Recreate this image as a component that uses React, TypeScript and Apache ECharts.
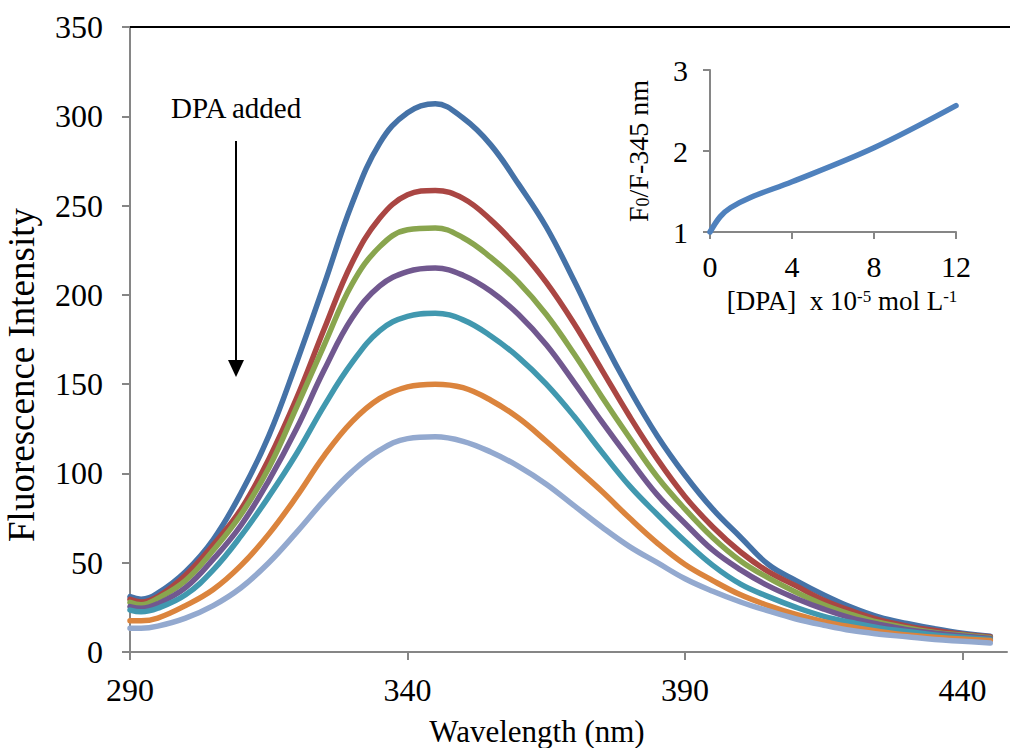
import React, { useEffect, useRef } from "react";
import * as echarts from "echarts";

// ---- Main spectra data ----
const wavelengths = [290, 292, 295, 300, 305, 310, 315, 320, 325, 330, 335, 340, 345, 350, 355, 360, 365, 370, 375, 380, 385, 390, 395, 400, 405, 410, 415, 420, 425, 430, 435, 440, 445];
const s1 = [31, 29.5, 33, 45, 63, 89, 121, 162, 206, 251, 285, 302, 307, 299, 284, 262, 238, 208, 176, 147, 121, 99, 80, 64.3, 49, 40, 32, 25, 19.5, 16, 13, 10.5, 8.8];
const s2 = [29.5, 28, 31, 43, 60, 80, 108, 142, 181, 218, 243, 256, 258.5, 254, 242, 226, 207, 184, 158, 132, 108, 87, 70, 56, 45, 37, 29, 23, 18, 14.5, 12, 10, 8.5];
const s3 = [27.8, 26.5, 30, 40, 57, 77, 103, 137, 172, 206, 227, 236.5, 237.5, 232, 221, 207, 189, 167, 143, 120, 98, 80, 64, 51, 41.5, 33.5, 26.5, 21, 16.5, 13.5, 11, 9.5, 8];
const s4 = [25.4, 24.5, 27, 36, 52, 71, 96, 125, 158, 187, 205, 213, 215, 211, 202, 189, 172, 151, 129, 108, 88, 72, 57, 46, 37, 30, 24, 19, 15.5, 12.5, 10.5, 9, 7.5];
const s5 = [23.5, 22.5, 24.5, 32, 46, 65, 87, 111, 138, 162, 180, 188, 189.7, 186, 177, 165, 150, 132, 112, 93, 77, 62, 48.5, 38, 31, 25, 20, 16.5, 13.5, 11.5, 9.5, 8.3, 7];
const s6 = [17.5, 17.5, 19, 26, 35, 48.5, 66, 87, 110, 129, 142, 148.5, 150, 148, 141, 131, 118, 104, 90, 75, 61, 49, 40, 32, 26, 21, 17, 14, 11.5, 9.5, 8.3, 7.3, 6.5];
const s7 = [13.3, 13.3, 14.5, 19, 26, 36, 50, 67, 85, 101, 113, 119.5, 120.5, 118, 112, 104, 94, 82, 70, 59, 50, 41, 34, 28, 23, 18.5, 15, 12, 10, 8.5, 7, 6, 5];
const spectra = [s1, s2, s3, s4, s5, s6, s7];
const spectraColors = ["#4572A7", "#AA4643", "#89A54E", "#71588F", "#4198AF", "#DB843D", "#93A9CF"];
const xTickValues = [290, 340, 390, 440];

// ---- Inset data ----
const dpaConc = [0, 0.5, 1, 2, 4, 8, 12];
const f0OverF = [1, 1.19, 1.3, 1.43, 1.62, 2.04, 2.56];

const FONT = "'Liberation Serif', 'Times New Roman', serif";
const AXIS_GRAY = "#868686";

export default function App() {
  const ref = useRef<HTMLDivElement>(null);

  useEffect(() => {
    if (!ref.current) return;
    const chart = echarts.init(ref.current, null, { renderer: "svg" });

    const mainSeries = spectra.map((vals, i) => ({
      type: "line",
      xAxisIndex: 0,
      yAxisIndex: 0,
      data: wavelengths.map((w, j) => [w, vals[j]]),
      showSymbol: false,
      symbol: "none",
      smooth: 0.4,
      lineStyle: { color: spectraColors[i], width: 5.5, cap: "round", join: "round" },
      itemStyle: { color: spectraColors[i] },
      z: 2 + i,
    }));

    const axisLineStyle = { show: true, lineStyle: { color: AXIS_GRAY, width: 2 } };

    chart.setOption({
      animation: false,
      backgroundColor: "#ffffff",
      grid: [
        { left: 130, right: 3, top: 27, bottom: 96, containLabel: false },
        { left: 710, top: 70, width: 246, height: 162, containLabel: false },
      ],
      xAxis: [
        {
          gridIndex: 0,
          type: "value",
          min: 290,
          max: 448,
          axisLine: { ...axisLineStyle, onZero: false },
          axisTick: { show: true, length: 8, lineStyle: { color: AXIS_GRAY, width: 2 }, customValues: xTickValues },
          axisLabel: { customValues: xTickValues, fontFamily: FONT, fontSize: 32, color: "#000", margin: 22 },
          splitLine: { show: false },
        },
        {
          gridIndex: 1,
          type: "value",
          min: 0,
          max: 12,
          interval: 4,
          axisLine: { ...axisLineStyle, onZero: false },
          axisTick: { show: true, length: 7, lineStyle: { color: AXIS_GRAY, width: 2 } },
          axisLabel: { fontFamily: FONT, fontSize: 30, color: "#000", margin: 19 },
          splitLine: { show: false },
        },
      ],
      yAxis: [
        {
          gridIndex: 0,
          type: "value",
          min: 0,
          max: 350,
          interval: 50,
          axisLine: { ...axisLineStyle, onZero: false },
          axisTick: { show: true, length: 8, lineStyle: { color: AXIS_GRAY, width: 2 } },
          axisLabel: { fontFamily: FONT, fontSize: 32, color: "#000", margin: 27 },
          splitLine: { show: false },
        },
        {
          gridIndex: 1,
          type: "value",
          min: 1,
          max: 3,
          interval: 1,
          axisLine: { ...axisLineStyle, onZero: false },
          axisTick: { show: true, length: 7, lineStyle: { color: AXIS_GRAY, width: 2 } },
          axisLabel: { fontFamily: FONT, fontSize: 30, color: "#000", margin: 22 },
          splitLine: { show: false },
        },
      ],
      series: [
        ...mainSeries,
        {
          type: "line",
          xAxisIndex: 1,
          yAxisIndex: 1,
          data: dpaConc.map((c, j) => [c, f0OverF[j]]),
          symbol: "none",
          smooth: 0.35,
          lineStyle: { color: "#4F81BD", width: 5.5, cap: "round" },
          z: 20,
        },
      ],
      graphic: [
        {
          type: "line",
          shape: { x1: 130, y1: 27, x2: 1010, y2: 27 },
          style: { stroke: "#000", lineWidth: 2 },
          z: 10,
        },
        {
          type: "text",
          x: 171,
          y: 108,
          style: { text: "DPA added", font: `29px ${FONT}`, fill: "#000", align: "left", verticalAlign: "middle" },
        },
        {
          type: "line",
          shape: { x1: 236, y1: 141, x2: 236, y2: 362 },
          style: { stroke: "#000", lineWidth: 2 },
        },
        {
          type: "polygon",
          shape: { points: [[228, 360], [244, 360], [236, 377]] },
          style: { fill: "#000" },
        },
        {
          type: "text",
          x: 21,
          y: 375,
          rotation: Math.PI / 2,
          style: { text: "Fluorescence Intensity", font: `37px ${FONT}`, fill: "#000", align: "center", verticalAlign: "middle" },
        },
        {
          type: "text",
          x: 537,
          y: 731,
          style: { text: "Wavelength (nm)", font: `31px ${FONT}`, fill: "#000", align: "center", verticalAlign: "middle" },
        },
        {
          type: "text",
          x: 638,
          y: 151,
          rotation: Math.PI / 2,
          style: {
            text: "F{sub|0}/F-345 nm",
            font: `28px ${FONT}`,
            fill: "#000",
            align: "center",
            verticalAlign: "middle",
            lineHeight: 28,
            rich: {
              sub: { fontSize: 18, fontFamily: FONT, fill: "#000", lineHeight: 8, verticalAlign: "bottom" },
            },
          },
        },
        {
          type: "text",
          x: 842,
          y: 301,
          style: {
            text: "[DPA]  x 10{sup|-5} mol L{sup|-1}",
            font: `27px ${FONT}`,
            fill: "#000",
            align: "center",
            verticalAlign: "middle",
            lineHeight: 27,
            rich: {
              sup: { fontSize: 17, fontFamily: FONT, fill: "#000", lineHeight: 12, verticalAlign: "top" },
            },
          },
        },
      ],
    });

    return () => chart.dispose();
  }, []);

  return (
    <div
      ref={ref}
      style={{ position: "fixed", left: 0, top: 0, width: 1010, height: 748, background: "#fff" }}
    />
  );
}
